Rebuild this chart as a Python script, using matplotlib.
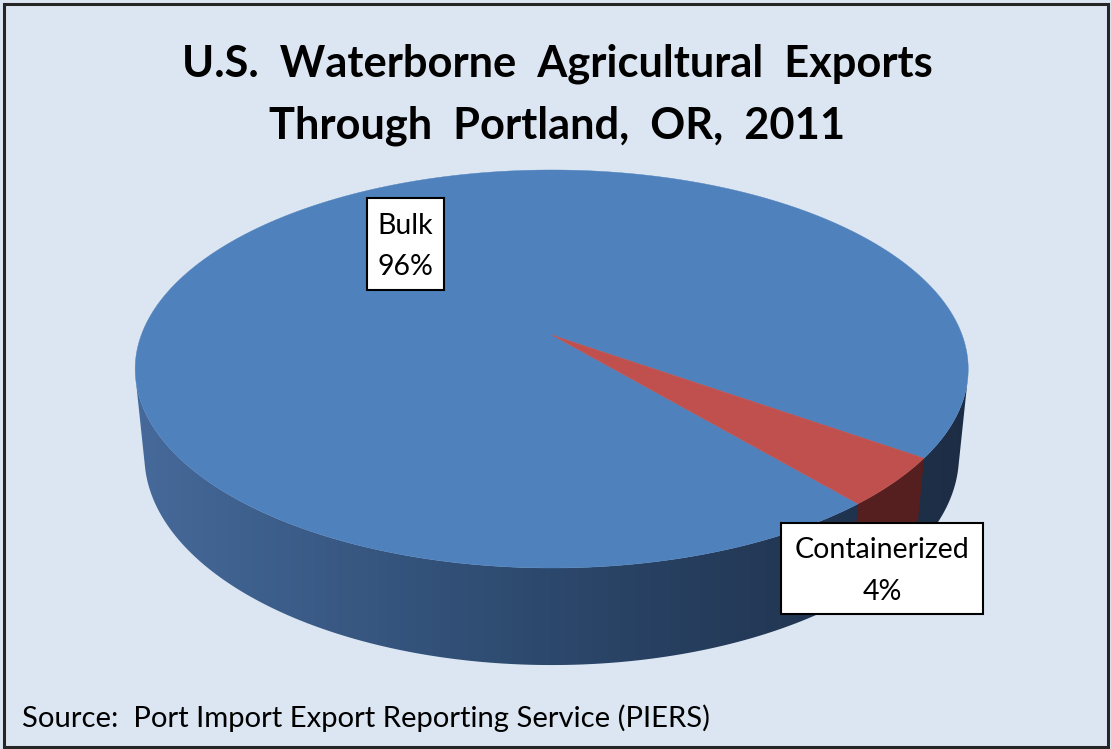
import numpy as np
import matplotlib.pyplot as plt
from matplotlib.patches import Polygon, Rectangle

plt.rcParams['font.family'] = ['Lato', 'DejaVu Sans']

categories = ['Bulk', 'Containerized']
shares = [96, 4]
pct_labels = ['96%', '4%']
top_colors = ['#4f81bd', '#c0504d']
side_colors = [None, '#561f1f']  # blue side is drawn as a gradient
title_lines = ['U.S.  Waterborne  Agricultural  Exports', 'Through  Portland,  OR,  2011']
source = 'Source:  Port Import Export Reporting Service (PIERS)'

# pie geometry (pixels), simple perspective camera looking down on a cylinder
cx, cy = 551.7, 335.0
A = 410.4
phi = np.arcsin(193.2 / 410.4)
k = 0.1708
L = np.cos(phi) / k
f = A * L
h = 0.2424
first_slice = 139.5  # degrees clockwise from 12 o'clock


def project(a_deg, depth=0.0):
    a = np.radians(a_deg)
    X, Z, Y = np.cos(a), np.sin(a), -depth
    zc = L - Y * np.sin(phi) + Z * np.cos(phi)
    yc = Y * np.cos(phi) + Z * np.sin(phi)
    return cx + f * X / zc, cy - f * yc / zc


def side_poly(a1, a2):
    a = np.linspace(a1, a2, 200)
    tx, ty = project(a)
    bx, by = project(a[::-1], h)
    return np.column_stack([np.r_[tx, bx], np.r_[ty, by]])


fig = plt.figure(figsize=(11.11, 7.49), dpi=100)
fig.patch.set_facecolor('#dce6f2')
ax = fig.add_axes([0, 0, 1, 1])
ax.set_xlim(0, 1111)
ax.set_ylim(749, 0)
ax.axis('off')

# slice angles (math angle, counter-clockwise from +x, seen from above)
total = sum(shares)
edges = [90 - first_slice]
for s in shares:
    edges.append(edges[-1] - 360 * s / total)

# visible part of the side wall
lim = np.degrees(np.arcsin(1 / (L * np.cos(phi))))
vis_lo, vis_hi = -180 + lim, -lim

side = Polygon(side_poly(vis_lo, vis_hi), closed=True, facecolor='none', edgecolor='none')
ax.add_patch(side)
grad_x = [130, 350, 550, 750, 975]
grad_c = np.array([[70, 106, 155], [56, 88, 130], [44, 72, 108], [36, 58, 88], [28, 44, 67]]) / 255
xs = np.linspace(130, 975, 400)
img = np.stack([np.interp(xs, grad_x, grad_c[:, i]) for i in range(3)], axis=-1)[None, :, :]
im = ax.imshow(img, extent=(130, 975, 680, 350), aspect='auto', interpolation='bilinear', zorder=1)
im.set_clip_path(side)

# side wall of the small slice, wrapped into the visible range
for i in range(len(shares)):
    if side_colors[i] is None:
        continue
    a_hi, a_lo = edges[i], edges[i + 1]
    while a_hi > 0:
        a_hi -= 360
        a_lo -= 360
    while a_hi < -360:
        a_hi += 360
        a_lo += 360
    lo, hi = max(a_lo, vis_lo), min(a_hi, vis_hi)
    if lo < hi:
        ax.add_patch(Polygon(side_poly(lo, hi), closed=True, facecolor=side_colors[i],
                             edgecolor='none', zorder=2))

# top face wedges
for i in range(len(shares)):
    a = np.linspace(edges[i], edges[i + 1], 400)
    px, py = project(a)
    pts = np.column_stack([np.r_[cx, px], np.r_[cy, py]])
    ax.add_patch(Polygon(pts, closed=True, facecolor=top_colors[i], edgecolor=top_colors[i],
                         linewidth=0.3, zorder=3))

# data labels
boxes = [(367, 198, 77, 92), (781, 523, 202, 91)]
baselines = [(234, 275), (558, 600)]
for i in range(len(shares)):
    x0, y0, w, hh = boxes[i]
    ax.add_patch(Rectangle((x0, y0), w, hh, facecolor='white', edgecolor='black', linewidth=1.5, zorder=4))
    xc = x0 + w / 2
    ax.text(xc, baselines[i][0], categories[i], ha='center', va='baseline', fontsize=20.5, zorder=5)
    ax.text(xc, baselines[i][1], pct_labels[i], ha='center', va='baseline', fontsize=20.5, zorder=5)

ax.text(557, 77, title_lines[0], ha='center', va='baseline', fontsize=31.2, fontweight='bold')
ax.text(557, 138, title_lines[1], ha='center', va='baseline', fontsize=31.2, fontweight='bold')
ax.text(22, 727, source, ha='left', va='baseline', fontsize=21.1)

ax.add_patch(Rectangle((3.5, 4), 1104.5, 742.5, facecolor='none', edgecolor='#262626', linewidth=2.2, zorder=6))

fig.savefig('out.png', dpi=100, facecolor=fig.get_facecolor())
